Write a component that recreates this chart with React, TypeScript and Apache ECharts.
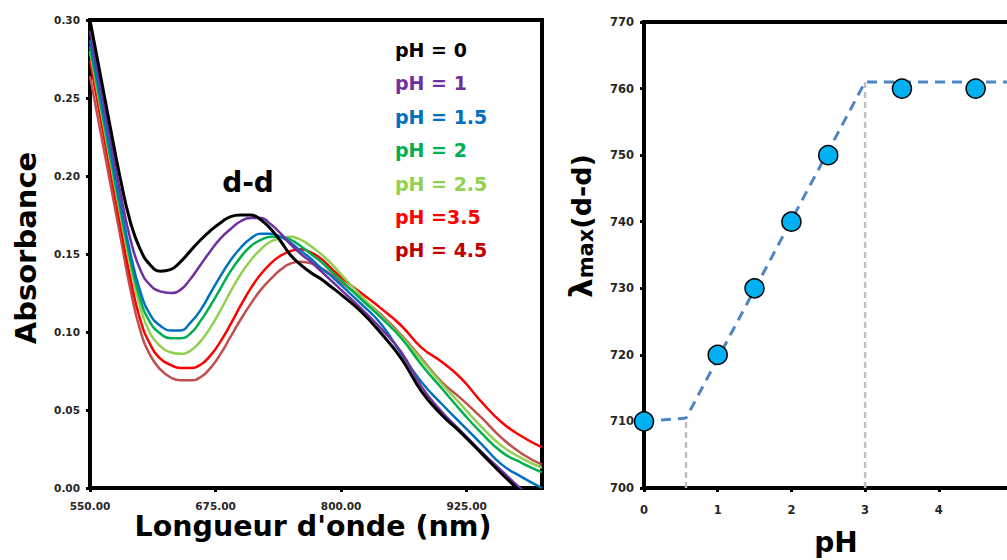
import React, { useEffect, useRef } from 'react';
import * as echarts from 'echarts';

// ---------- Left panel: absorbance spectra ----------
const wavelengths = [550, 560, 570, 580, 590, 600, 610, 620, 630, 640, 650, 660, 670, 680, 690, 700, 710, 720, 730, 740, 750, 760, 770, 780, 790, 800, 820, 840, 860, 880, 900, 920, 940, 960, 980, 1000];

const absPH0 = [0.300, 0.266, 0.232, 0.199, 0.171, 0.153, 0.143, 0.139, 0.140, 0.145, 0.152, 0.159, 0.165, 0.170, 0.174, 0.175, 0.175, 0.172, 0.166, 0.158, 0.149, 0.143, 0.138, 0.134, 0.129, 0.124, 0.113, 0.099, 0.083, 0.062, 0.047, 0.035, 0.022, 0.009, -0.003, -0.014];
const absPH1 = [0.293, 0.259, 0.224, 0.190, 0.160, 0.140, 0.130, 0.126, 0.125, 0.127, 0.134, 0.143, 0.152, 0.160, 0.166, 0.171, 0.173, 0.173, 0.169, 0.163, 0.156, 0.150, 0.145, 0.139, 0.133, 0.127, 0.115, 0.102, 0.087, 0.065, 0.049, 0.036, 0.023, 0.011, -0.001, -0.010];
const absPH15 = [0.287, 0.252, 0.217, 0.183, 0.151, 0.126, 0.111, 0.104, 0.101, 0.101, 0.106, 0.114, 0.125, 0.136, 0.146, 0.154, 0.160, 0.163, 0.163, 0.161, 0.157, 0.152, 0.147, 0.141, 0.136, 0.130, 0.118, 0.105, 0.086, 0.068, 0.054, 0.041, 0.028, 0.015, 0.007, 0.000];
const absPH2 = [0.283, 0.248, 0.213, 0.179, 0.147, 0.121, 0.106, 0.099, 0.096, 0.096, 0.099, 0.107, 0.117, 0.128, 0.139, 0.148, 0.155, 0.159, 0.161, 0.161, 0.159, 0.155, 0.150, 0.145, 0.139, 0.133, 0.121, 0.109, 0.096, 0.079, 0.064, 0.049, 0.035, 0.023, 0.016, 0.010];
const absPH25 = [0.280, 0.245, 0.210, 0.176, 0.143, 0.116, 0.099, 0.091, 0.087, 0.086, 0.088, 0.094, 0.103, 0.114, 0.126, 0.137, 0.146, 0.153, 0.158, 0.160, 0.161, 0.159, 0.155, 0.150, 0.144, 0.137, 0.123, 0.110, 0.097, 0.082, 0.067, 0.053, 0.039, 0.027, 0.019, 0.013];
const absPH35 = [0.274, 0.239, 0.204, 0.169, 0.135, 0.108, 0.092, 0.083, 0.079, 0.077, 0.077, 0.079, 0.085, 0.094, 0.105, 0.117, 0.128, 0.137, 0.144, 0.149, 0.152, 0.153, 0.151, 0.147, 0.141, 0.135, 0.125, 0.115, 0.104, 0.090, 0.081, 0.070, 0.055, 0.042, 0.033, 0.026];
const absPH45 = [0.264, 0.230, 0.196, 0.162, 0.128, 0.101, 0.085, 0.076, 0.071, 0.069, 0.069, 0.071, 0.077, 0.086, 0.097, 0.108, 0.118, 0.127, 0.134, 0.140, 0.144, 0.145, 0.144, 0.141, 0.137, 0.132, 0.122, 0.111, 0.098, 0.083, 0.068, 0.057, 0.045, 0.032, 0.022, 0.015];

const curveLabels = ['pH = 0', 'pH = 1', 'pH = 1.5', 'pH = 2', 'pH = 2.5', 'pH =3.5', 'pH = 4.5'];
const curveColors = ['#000000', '#7030A0', '#0070C0', '#00B050', '#92D050', '#FF0000', '#C0504D'];
const labelColors = ['#000000', '#7030A0', '#0070C0', '#00B050', '#92D050', '#FF0000', '#C00000'];
const curves = [absPH0, absPH1, absPH15, absPH2, absPH25, absPH35, absPH45];

// ---------- Right panel: lambda max vs pH ----------
const phValues = [0, 1, 1.5, 2, 2.5, 3.5, 4.5];
const lambdaMax = [710, 720, 730, 740, 750, 760, 760];
const fitX = [0, 0.57, 3, 5];
const fitY = [710, 710.5, 761, 761];
const guide1X = [0.57, 0.57];
const guide1Y = [700, 710.5];
const guide2X = [3, 3];
const guide2Y = [700, 761];

const FONT = 'DejaVu Sans';

export default function App() {
  const ref = useRef<HTMLDivElement>(null);
  useEffect(() => {
    if (!ref.current) return;
    const chart = echarts.init(ref.current, undefined, { renderer: 'svg' });
    const zip = (xs: number[], ys: number[]) => xs.map((x, i) => [x, ys[i]]);

    const axisLineStyle = { show: true, lineStyle: { color: '#000', width: 4 } };
    const tickStyle = { show: true, length: 4, lineStyle: { color: '#000', width: 3 } };
    const lblBase = { color: '#262626', fontFamily: FONT, fontWeight: 'bold' as const };

    const curveSeries = curves
      .map((c, i) => ({
        type: 'line',
        name: curveLabels[i],
        xAxisIndex: 0,
        yAxisIndex: 0,
        data: zip(wavelengths, c),
        showSymbol: false,
        smooth: 0.5,
        lineStyle: { color: curveColors[i], width: i === 0 ? 3 : 2.5 },
        z: 10 - i,
      }))
      .reverse();

    const legendTexts = curveLabels.map((t, i) => ({
      type: 'text',
      x: 395,
      y: 50 + i * 33.4,
      style: {
        text: t,
        fill: labelColors[i],
        fontFamily: FONT,
        fontWeight: 'bold',
        fontSize: 19,
        align: 'left',
        verticalAlign: 'middle',
      },
    }));

    const option: any = {
      animation: false,
      backgroundColor: '#fff',
      grid: [
        { left: 90, top: 20, width: 452, height: 468, show: true, borderColor: '#000', borderWidth: 4 },
        { left: 644, top: 22, width: 368.5, height: 466, show: true, borderColor: '#000', borderWidth: 4 },
      ],
      xAxis: [
        {
          gridIndex: 0, type: 'value', min: 550, max: 1000, interval: 125,
          axisLine: axisLineStyle, axisTick: tickStyle, splitLine: { show: false },
          axisLabel: { ...lblBase, fontSize: 10.5, margin: 12, showMaxLabel: false, formatter: (v: number) => v.toFixed(2) },
        },
        {
          gridIndex: 1, type: 'value', min: 0, max: 5, interval: 1,
          axisLine: axisLineStyle, axisTick: tickStyle, splitLine: { show: false },
          axisLabel: { ...lblBase, fontSize: 11.5, margin: 16, showMaxLabel: false },
        },
      ],
      yAxis: [
        {
          gridIndex: 0, type: 'value', min: 0, max: 0.3, interval: 0.05,
          axisLine: axisLineStyle, axisTick: tickStyle, splitLine: { show: false },
          axisLabel: { ...lblBase, fontSize: 10.5, margin: 10, formatter: (v: number) => v.toFixed(2) },
        },
        {
          gridIndex: 1, type: 'value', min: 700, max: 770, interval: 10,
          axisLine: axisLineStyle, axisTick: tickStyle, splitLine: { show: false },
          axisLabel: { ...lblBase, fontSize: 11.5, margin: 10 },
        },
      ],
      series: [
        ...curveSeries,
        {
          type: 'line', xAxisIndex: 1, yAxisIndex: 1, data: zip(guide1X, guide1Y), showSymbol: false,
          lineStyle: { color: '#BFBFBF', width: 2.5, type: [6, 4] }, z: 3,
        },
        {
          type: 'line', xAxisIndex: 1, yAxisIndex: 1, data: zip(guide2X, guide2Y), showSymbol: false,
          lineStyle: { color: '#BFBFBF', width: 2.5, type: [6, 4] }, z: 3,
        },
        {
          type: 'line', xAxisIndex: 1, yAxisIndex: 1, data: zip(fitX, fitY), showSymbol: false,
          lineStyle: { color: '#4F86C6', width: 3, type: [10, 7] }, z: 4,
        },
        {
          type: 'scatter', xAxisIndex: 1, yAxisIndex: 1, data: zip(phValues, lambdaMax),
          symbol: 'circle', symbolSize: 19,
          itemStyle: { color: '#00B0F0', borderColor: '#000', borderWidth: 1.5, opacity: 1 },
          z: 6,
        },
      ],
      graphic: [
        ...legendTexts,
        {
          type: 'text', x: 248, y: 182,
          style: { text: 'd-d', fill: '#000', fontFamily: FONT, fontWeight: 'bold', fontSize: 28, align: 'center', verticalAlign: 'middle' },
        },
        {
          type: 'text', x: 26, y: 248, rotation: Math.PI / 2,
          style: { text: 'Absorbance', fill: '#000', fontFamily: FONT, fontWeight: 'bold', fontSize: 29, align: 'center', verticalAlign: 'middle' },
        },
        {
          type: 'text', x: 313, y: 526,
          style: { text: "Longueur d'onde (nm)", fill: '#000', fontFamily: FONT, fontWeight: 'bold', fontSize: 28.5, align: 'center', verticalAlign: 'middle' },
        },
        {
          type: 'text', x: 836, y: 542,
          style: { text: 'pH', fill: '#000', fontFamily: FONT, fontWeight: 'bold', fontSize: 28, align: 'center', verticalAlign: 'middle' },
        },
        {
          type: 'text', x: 581, y: 226, rotation: Math.PI / 2,
          style: {
            text: '{a|λ}{b|max}{c|(d-d)}',
            fill: '#000', align: 'center', verticalAlign: 'middle',
            rich: {
              a: { fontFamily: FONT, fontWeight: 'bold', fontSize: 31, fill: '#000', verticalAlign: 'middle' },
              b: { fontFamily: FONT, fontWeight: 'bold', fontSize: 21, fill: '#000', verticalAlign: 'bottom' },
              c: { fontFamily: FONT, fontWeight: 'bold', fontSize: 27, fill: '#000', verticalAlign: 'middle' },
            },
          },
        },
      ],
    };
    chart.setOption(option);
    return () => chart.dispose();
  }, []);
  return (
    <div style={{ position: 'absolute', left: 0, top: 0, width: 1007, height: 560, overflow: 'hidden', background: '#fff' }}>
      <div ref={ref} style={{ position: 'absolute', left: 0, top: 0, width: 1100, height: 560 }} />
    </div>
  );
}
